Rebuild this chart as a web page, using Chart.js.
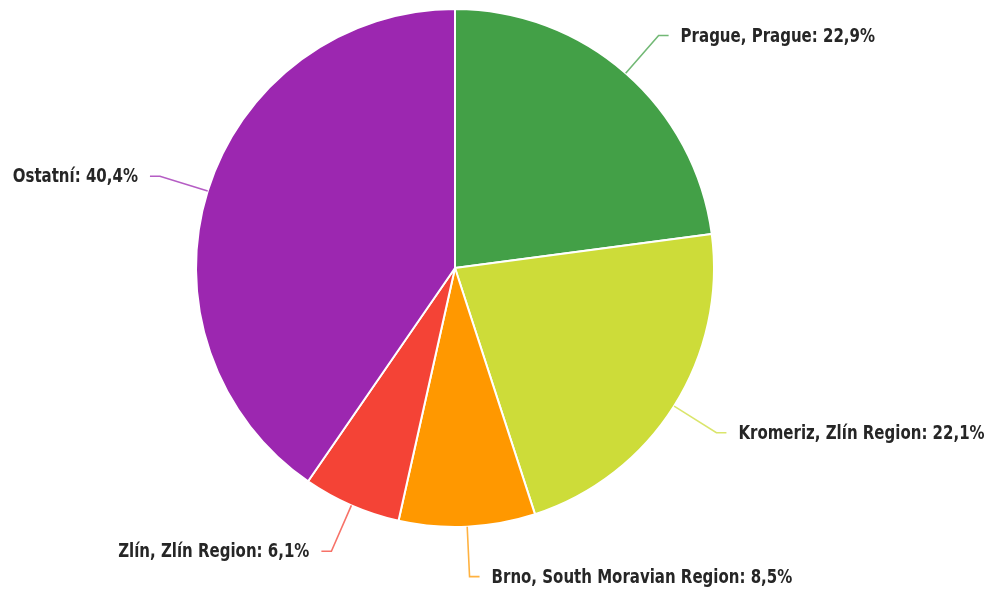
<!DOCTYPE html>
<html>
<head>
<meta charset="utf-8">
<script src="https://cdn.jsdelivr.net/npm/chart.js@4/dist/chart.umd.min.js"></script>
<style>
  html, body { margin: 0; padding: 0; background: #ffffff; }
  #wrap { width: 990px; height: 589px; position: relative; }
</style>
</head>
<body>
<div id="wrap"><canvas id="chart"></canvas></div>
<script>
// Share of visitors by city
const categories = [
  'Prague, Prague',
  'Kromeriz, Zlín Region',
  'Brno, South Moravian Region',
  'Zlín, Zlín Region',
  'Ostatní'
];
const shares = [22.9, 22.1, 8.5, 6.1, 40.4];
const sliceColors = ['#43a047', '#cddc39', '#ff9800', '#f44336', '#9c27b0'];

const LABEL_FONT = "bold 20px 'DejaVu Sans', sans-serif";
const LABEL_SQUEEZE = 0.75; // horizontal condensing of label glyphs

// Draws elbow leader lines and "name: value%" labels outside each slice
const outsideLabels = {
  id: 'outsideLabels',
  afterDatasetsDraw(chart) {
    const ctx = chart.ctx;
    const meta = chart.getDatasetMeta(0);
    const ds = chart.data.datasets[0];
    ctx.save();
    ctx.font = LABEL_FONT;
    ctx.textBaseline = 'middle';
    meta.data.forEach((arc, i) => {
      const { x, y, startAngle, endAngle, outerRadius } = arc.getProps(['x', 'y', 'startAngle', 'endAngle', 'outerRadius'], true);
      const mid = (startAngle + endAngle) / 2;
      const cos = Math.cos(mid), sin = Math.sin(mid);
      const x0 = x + cos * outerRadius, y0 = y + sin * outerRadius;
      const x1 = x + cos * (outerRadius + 50), y1 = y + sin * (outerRadius + 50);
      const right = cos >= 0;
      const x2 = x1 + (right ? 10 : -10);
      ctx.strokeStyle = ds.backgroundColor[i];
      ctx.globalAlpha = 0.75;
      ctx.lineWidth = 1.6;
      ctx.beginPath();
      ctx.moveTo(x0, y0);
      ctx.lineTo(x1, y1);
      ctx.lineTo(x2, y1);
      ctx.stroke();
      ctx.globalAlpha = 1;
      const text = chart.data.labels[i] + ': ' + ds.data[i].toFixed(1).replace('.', ',') + '%';
      const tx = x2 + (right ? 12 : -12);
      ctx.save();
      ctx.translate(tx, y1 + 1);
      ctx.scale(LABEL_SQUEEZE, 1);
      ctx.fillStyle = '#262626';
      ctx.textAlign = right ? 'left' : 'right';
      ctx.fillText(text, 0, 0);
      ctx.restore();
    });
    ctx.restore();
  }
};

new Chart(document.getElementById('chart'), {
  type: 'pie',
  data: {
    labels: categories,
    datasets: [{
      data: shares,
      backgroundColor: sliceColors,
      borderColor: '#ffffff',
      borderWidth: 2
    }]
  },
  options: {
    responsive: true,
    maintainAspectRatio: false,
    animation: false,
    layout: { padding: { top: 8, bottom: 61, left: 0, right: 80 } },
    plugins: {
      legend: { display: false },
      tooltip: { enabled: false }
    }
  },
  plugins: [outsideLabels]
});
</script>
</body>
</html>
